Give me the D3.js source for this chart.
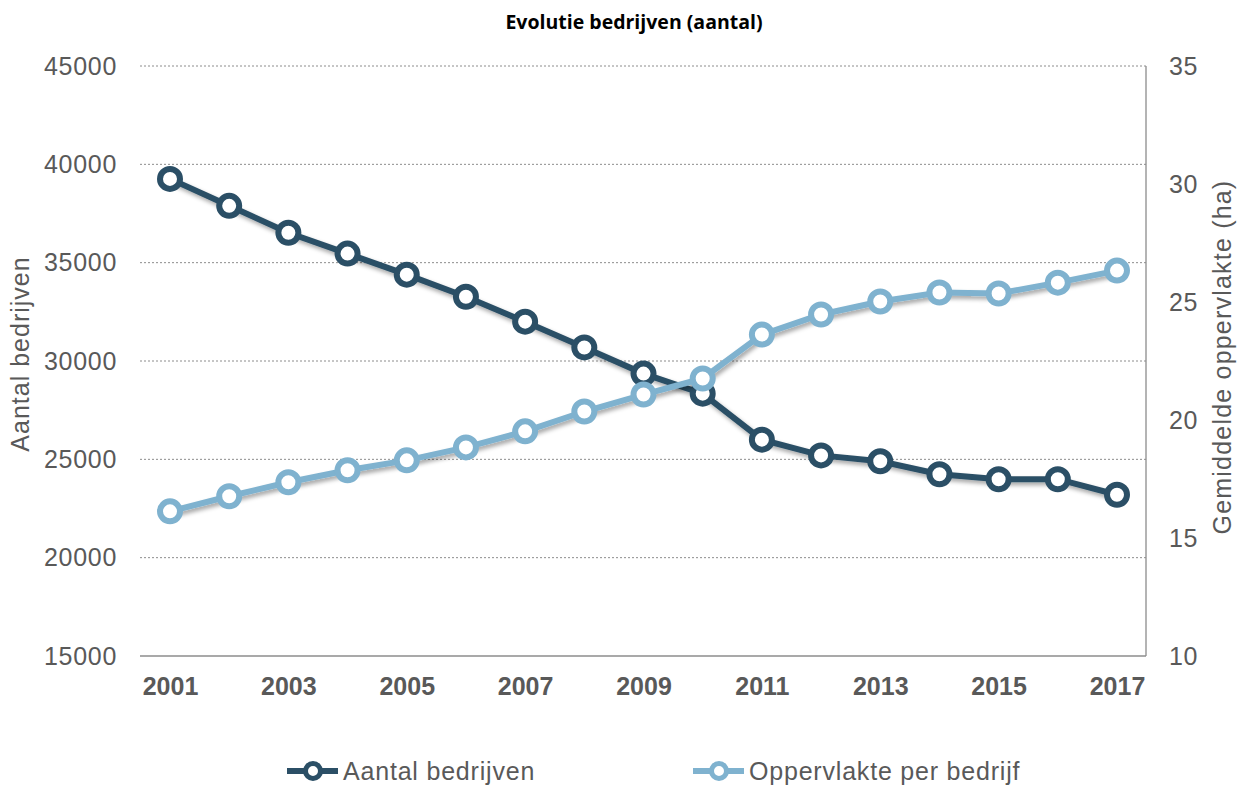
<!DOCTYPE html>
<html><head><meta charset="utf-8">
<script src="https://cdn.jsdelivr.net/npm/d3@7"></script>
<style>body{margin:0;background:#fff}svg{display:block}</style>
</head><body>
<script>
const years = [2001,2002,2003,2004,2005,2006,2007,2008,2009,2010,2011,2012,2013,2014,2015,2016,2017];
const aantalBedrijven = [39260,37890,36520,35460,34390,33270,32000,30690,29360,28340,26000,25200,24900,24240,23990,23990,23200];
const oppervlaktePerBedrijf = [16.13,16.77,17.36,17.87,18.29,18.84,19.52,20.36,21.08,21.76,23.62,24.47,25.02,25.40,25.36,25.82,26.33];
const leftTicks = [15000,20000,25000,30000,35000,40000,45000];
const rightTicks = [10,15,20,25,30,35];
const xTickYears = [2001,2003,2005,2007,2009,2011,2013,2015,2017];

const W=1237,H=785;
const x0=140,x1=1146,yTop=66,yBot=656;
const darkC="#2b4f66", lightC="#7fb2cf", grey="#595959";
const FF="Liberation Sans, Arial, sans-serif";

const svg=d3.select("body").append("svg").attr("width",W).attr("height",H);
const defs=svg.append("defs");
const f=defs.append("filter").attr("id","sh").attr("x","-10%").attr("y","-10%").attr("width","120%").attr("height","130%");
f.append("feDropShadow").attr("dx",2).attr("dy",3).attr("stdDeviation",2).attr("flood-color","#000").attr("flood-opacity",0.35);

const x=d3.scalePoint().domain(years).range([170,1117]);
const yL=d3.scaleLinear().domain([15000,45000]).range([yBot,yTop]);
const yR=d3.scaleLinear().domain([10,35]).range([yBot,yTop]);

// grid
svg.append("g").selectAll("line").data(leftTicks.filter(d=>d>15000)).join("line")
  .attr("x1",x0).attr("x2",x1).attr("y1",d=>yL(d)).attr("y2",d=>yL(d))
  .attr("stroke","#8c8c8c").attr("stroke-width",1).attr("stroke-dasharray","2,2");

// left axis
const gl=svg.append("g").attr("transform",`translate(117,0)`)
  .call(d3.axisLeft(yL).tickValues(leftTicks).tickSize(0).tickPadding(0).tickFormat(d3.format("d")));
gl.select(".domain").remove();
gl.selectAll("text").attr("font-family",FF).attr("font-size",25).attr("letter-spacing",0.7).attr("fill",grey);

// right axis
svg.append("line").attr("x1",x1).attr("x2",x1).attr("y1",yTop).attr("y2",yBot).attr("stroke","#8c8c8c").attr("stroke-width",1.3);
const gr=svg.append("g").attr("transform",`translate(1169,0)`)
  .call(d3.axisRight(yR).tickValues(rightTicks).tickSize(0).tickPadding(0));
gr.select(".domain").remove();
gr.selectAll("text").attr("font-family",FF).attr("font-size",25).attr("letter-spacing",0.7).attr("fill",grey);

// bottom axis
svg.append("line").attr("x1",x0).attr("x2",x1).attr("y1",yBot).attr("y2",yBot).attr("stroke","#8c8c8c").attr("stroke-width",1.3);
const gb=svg.append("g").attr("transform",`translate(0,${yBot})`)
  .call(d3.axisBottom(x).tickValues(xTickYears).tickSize(0).tickPadding(21));
gb.select(".domain").remove();
gb.selectAll("text").attr("font-family",FF).attr("font-size",25).attr("font-weight","bold").attr("fill",grey);

// axis titles
svg.append("text").attr("transform","translate(29,354) rotate(-90)").attr("text-anchor","middle")
  .attr("font-family",FF).attr("font-size",25).attr("letter-spacing",1).attr("fill",grey).text("Aantal bedrijven");
svg.append("text").attr("transform","translate(1231,357) rotate(-90)").attr("text-anchor","middle")
  .attr("font-family",FF).attr("font-size",25).attr("letter-spacing",1.2).attr("fill",grey).text("Gemiddelde oppervlakte (ha)");

// title
svg.append("text").attr("x",634).attr("y",29).attr("text-anchor","middle")
  .attr("font-family","Open Sans, Liberation Sans, sans-serif").attr("font-size",19.5).attr("font-weight","bold").attr("fill","#000")
  .text("Evolutie bedrijven (aantal)");

function series(vals, yS, color){
  const pts=years.map((yr,i)=>[x(yr),yS(vals[i])]);
  const g=svg.append("g");
  g.append("path").attr("d",d3.line()(pts)).attr("fill","none").attr("stroke",color).attr("stroke-width",6).attr("filter","url(#sh)");
  g.selectAll("circle").data(pts).join("circle").attr("cx",d=>d[0]).attr("cy",d=>d[1]).attr("r",10)
    .attr("fill","#fff").attr("stroke",color).attr("stroke-width",6);
}
series(aantalBedrijven,yL,darkC);
series(oppervlaktePerBedrijf,yR,lightC);

// legend
const legend=[{name:"Aantal bedrijven",c:darkC,x:287},{name:"Oppervlakte per bedrijf",c:lightC,x:693}];
const lg=svg.append("g");
legend.forEach(l=>{
  lg.append("line").attr("x1",l.x).attr("x2",l.x+51).attr("y1",771).attr("y2",771).attr("stroke",l.c).attr("stroke-width",6);
  lg.append("circle").attr("cx",l.x+26).attr("cy",771).attr("r",7.5).attr("fill","#fff").attr("stroke",l.c).attr("stroke-width",5);
  lg.append("text").attr("x",l.x+56).attr("y",780).attr("font-family",FF).attr("font-size",25).attr("letter-spacing",0.8).attr("fill",grey).text(l.name);
});
</script>
</body></html>
